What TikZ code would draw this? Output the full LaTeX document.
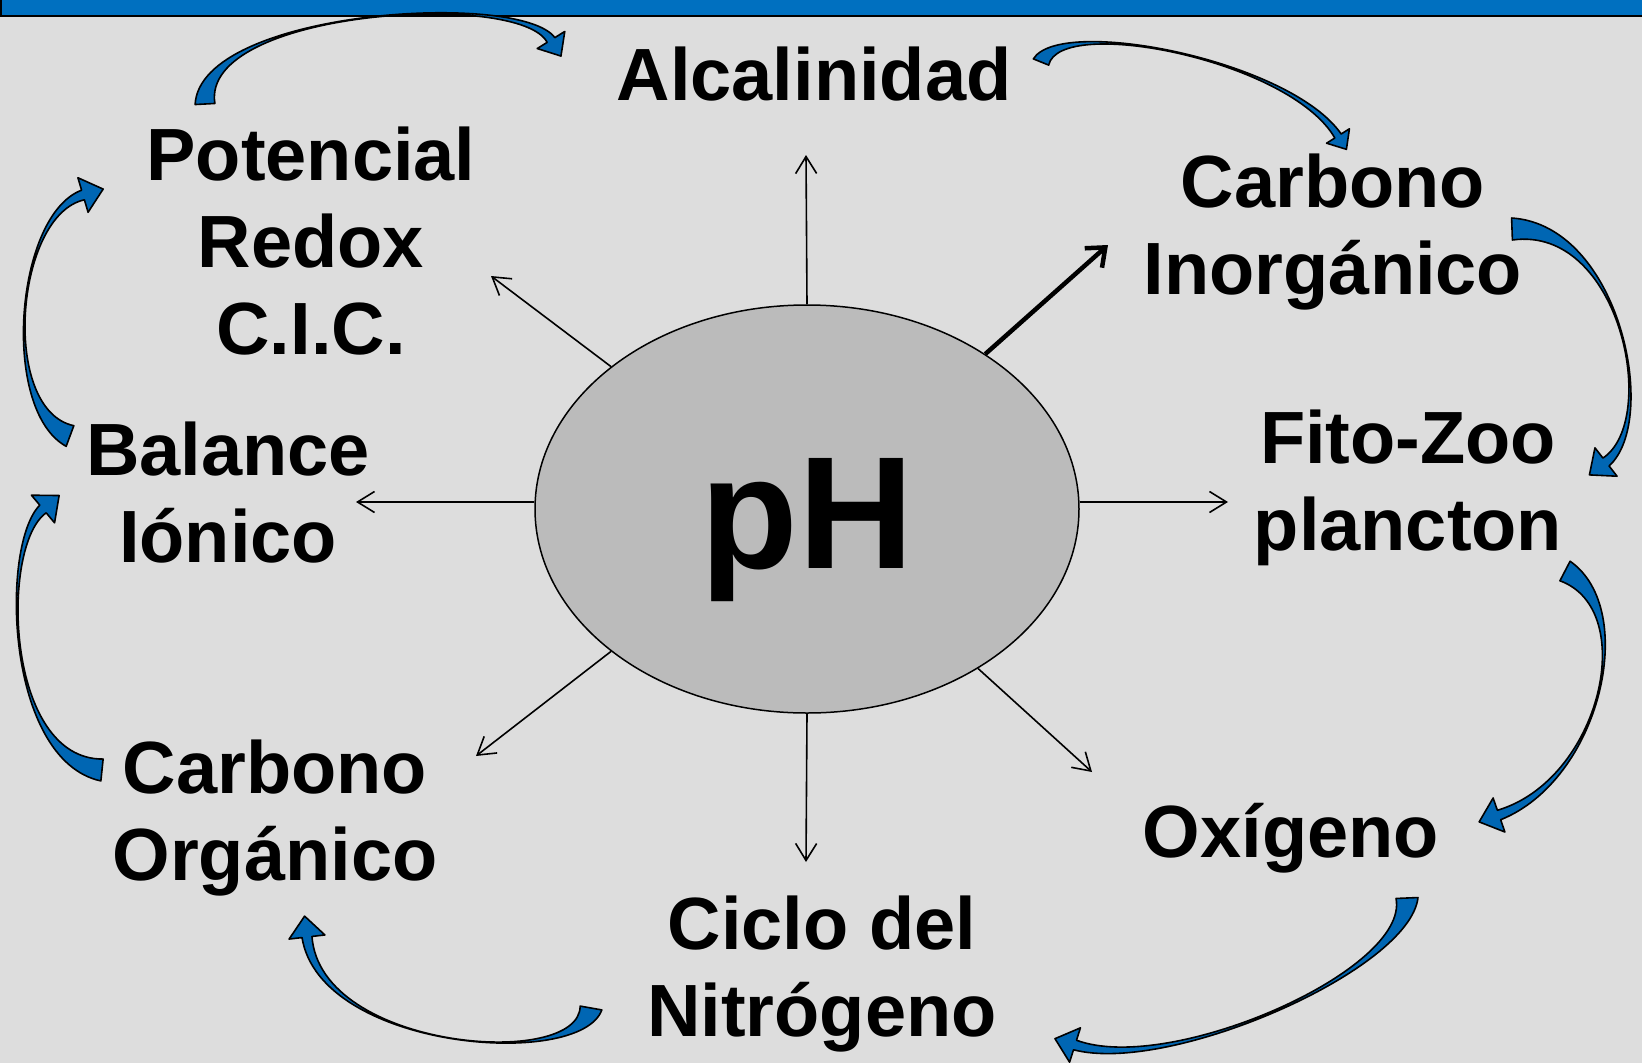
\documentclass[tikz,border=0pt]{standalone}
\usepackage{fontspec}
\setmainfont{Liberation Sans}
\usetikzlibrary{arrows.meta,calc,shapes.geometric}
\definecolor{slidegray}{HTML}{DDDDDD}
\definecolor{ellgray}{HTML}{BBBBBB}
\definecolor{barblue}{HTML}{0070C0}
\definecolor{arrowblue}{HTML}{0066B3}
\tikzset{
	topic/.style={font=\fontsize{74}{87}\selectfont\bfseries, align=center, anchor=base, inner sep=0pt},
	ray/.style={line width=1.6pt, -{Straight Barb[length=17pt,width=21pt]}},
	mainray/.style={line width=4.5pt, -{Straight Barb[length=16pt,width=26pt]}},
	roundarrow/.style={fill=arrowblue, draw=black, line width=1.6pt, line join=round}
}
% tapered curved arrow: [scale]{tail}{control 1}{control 2}{head base}
\newcommand{\bluearrow}[5][1]{%
	\filldraw[roundarrow] ($(#2)!#1*11pt!90:(#3)$) .. controls (#3) and (#4) ..
		($(#5)!#1*5pt!-90:(#4)$) -- ($(#5)!#1*18pt!-90:(#4)$) --
		($(#5)!#1*21pt!180:(#4)$) -- ($(#5)!#1*18pt!90:(#4)$) --
		($(#5)!#1*5pt!90:(#4)$) .. controls (#4) and (#3) .. ($(#2)!#1*11pt!-90:(#3)$) -- cycle;}

\begin{document}
\begin{tikzpicture}[x=1pt, y=-1pt]

	% Draw the slide
	\fill[slidegray] (0,0) rectangle (1642,1063);
	\useasboundingbox (0,0) rectangle (1642,1063);
	\filldraw[fill=barblue, draw=black, line width=1.5pt] (0.8,-3) rectangle (1646,16);

	% Draw the pH ellipse
	\node[ellipse, draw, line width=1.5pt, fill=ellgray, minimum width=544pt, minimum height=408pt, inner sep=0pt] (ph) at (807,509) {};
	\node[font=\fontsize{160}{160}\selectfont\bfseries, anchor=base, inner sep=0pt] (phtext) at (807,568) {pH};

	% Draw the factors (base = last line)
	\node[topic] (alcalinidad) at (814,100) {Alcalinidad};
	\node[topic] (redox) at (311,354) {Potencial\\Redox\\C.I.C.};
	\node[topic] (cinorg) at (1333,294) {Carbono\\Inorgánico};
	\node[topic] (plancton) at (1408,550) {Fito-Zoo\\plancton};
	\node[topic] (balance) at (228,562) {Balance\\Iónico};
	\node[topic] (corg) at (275,880) {Carbono\\Orgánico};
	\node[topic] (oxigeno) at (1291,857) {Oxígeno};
	\node[topic] (nitrogeno) at (822,1036) {Ciclo del\\Nitrógeno};

	% Draw the rays from pH
	\coordinate (alc-in) at (806,155);
	\coordinate (cinorg-in) at (1108,245);
	\coordinate (plancton-in) at (1228,502);
	\coordinate (oxigeno-in) at (1092,772);
	\coordinate (nitrogeno-in) at (806,862);
	\coordinate (corg-in) at (476,756);
	\coordinate (balance-in) at (356,502);
	\coordinate (redox-in) at (491,276);
	\draw[ray] (ph.north) -- (alc-in);
	\draw[mainray] (ph.41) -- (cinorg-in);
	\draw[ray] (ph.east |- plancton-in) -- (plancton-in);
	\draw[ray] (ph.-43) -- (oxigeno-in);
	\draw[ray] (ph.south) -- (nitrogeno-in);
	\draw[ray] (ph.216) -- (corg-in);
	\draw[ray] (ph.west |- balance-in) -- (balance-in);
	\draw[ray] (ph.144) -- (redox-in);

	% Draw the cycle of blue arrows
	\bluearrow[0.9]{205,104}{200,10}{520,-10}{551,40}
	\bluearrow[0.75]{1041,62}{1060,15}{1290,60}{1338,136}
	\bluearrow{1512,229}{1620,225}{1660,420}{1606,462}
	\bluearrow{1565,571}{1640,610}{1600,780}{1499,815}
	\bluearrow{1407,898}{1410,970}{1170,1075}{1075,1045}
	\bluearrow{591,1008}{580,1070}{320,1050}{307,937}
	\bluearrow{102,770}{5,760}{0,545}{43,509}
	\bluearrow{70,436}{0,410}{15,215}{83,195}

\end{tikzpicture}
\end{document}
